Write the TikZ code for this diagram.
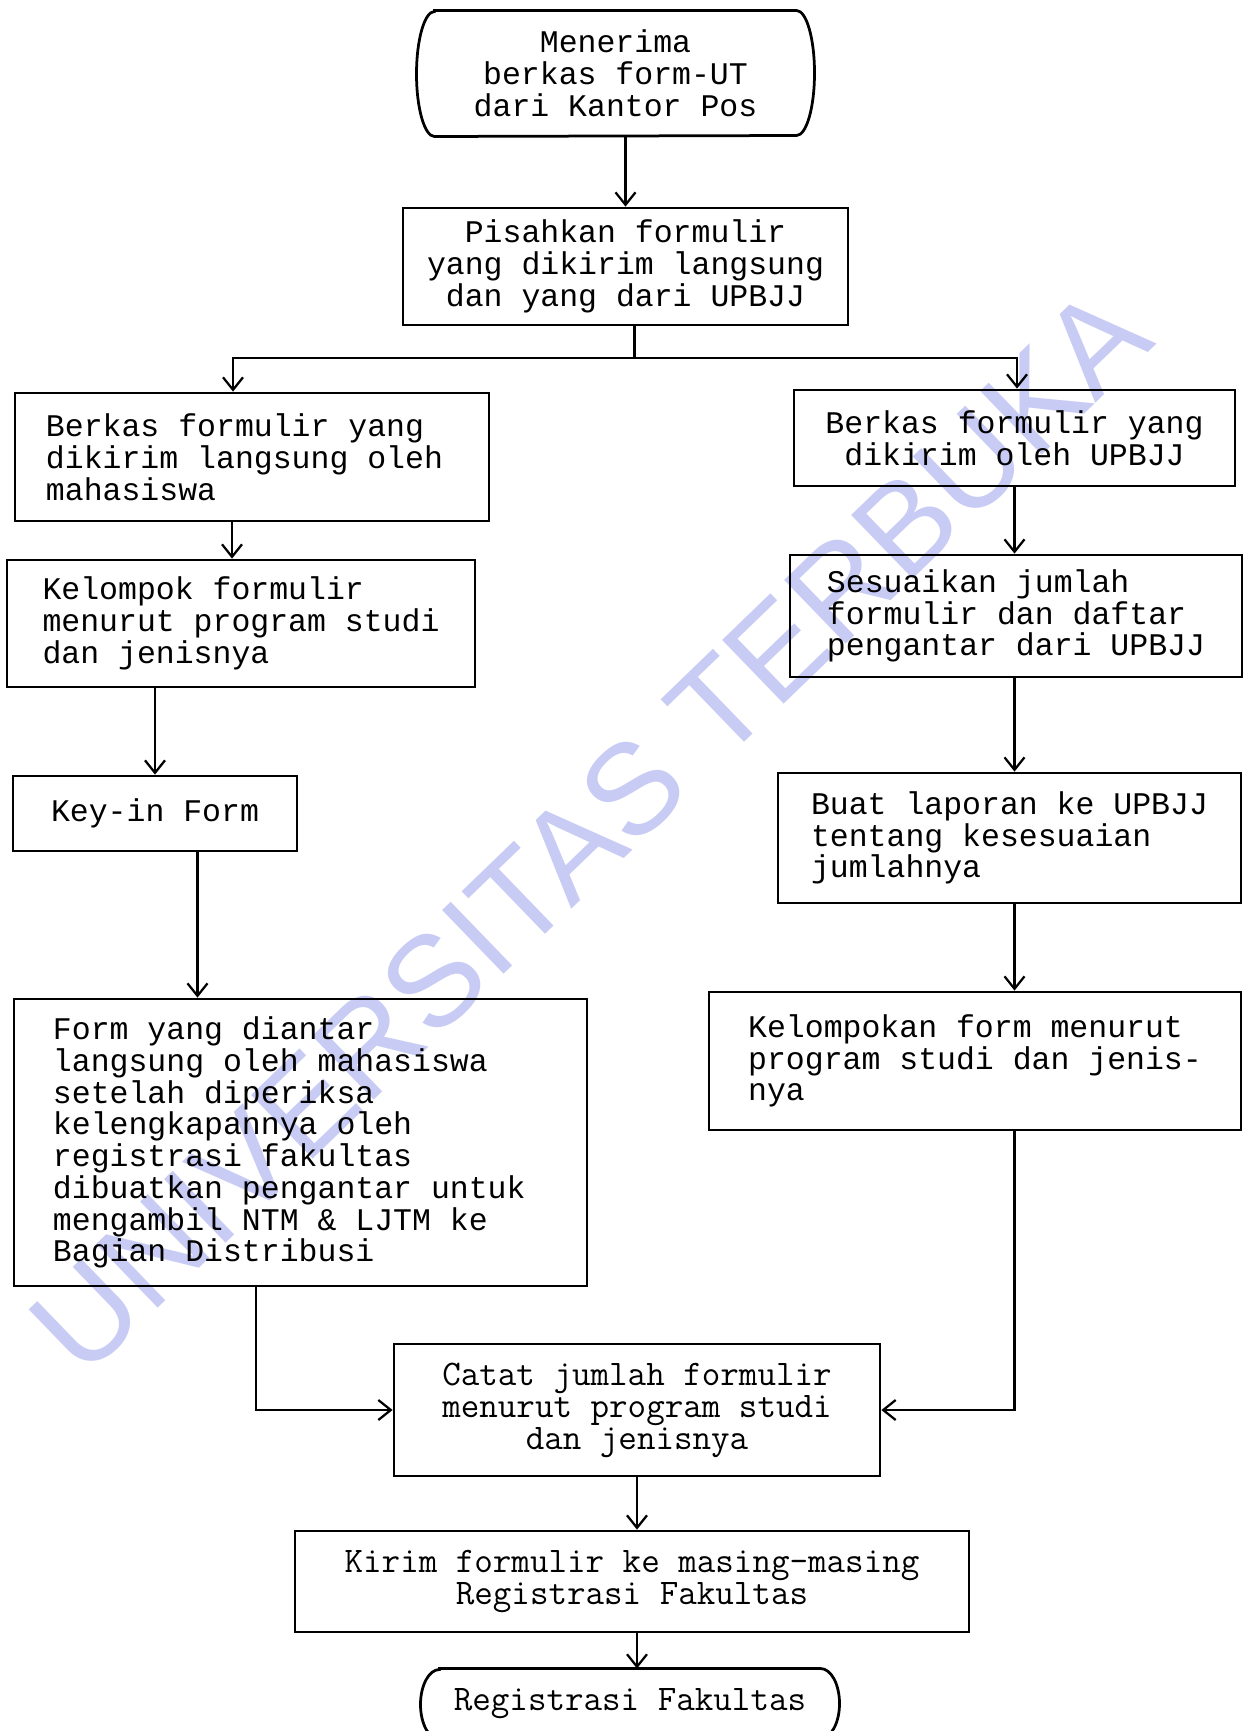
\documentclass[tikz,border=0pt]{standalone}
\usepackage{fontspec}
\newfontfamily\typefont{Liberation Mono}
\newfontfamily\markfont{Liberation Sans}
\usetikzlibrary{positioning,arrows.meta}

\definecolor{markblue}{RGB}{200,204,245}

\tikzset{
    box/.style={draw, line width=1.1pt, rectangle, inner sep=0pt, align=left,
        font=\typefont\fontsize{12.6}{12.7}\selectfont},
    boxl/.style={box, align=flush left},
    boxc/.style={box, align=center},
    boxcond/.style={box, align=center,
        font=\ttfamily\fontsize{14.4}{12.8}\selectfont},
    term/.style={rectangle, inner sep=0pt, align=center},
    flow/.style={->, line width=0.9pt},
}

\begin{document}
\begin{tikzpicture}[x=0.4pt, y=0.4pt, >={Straight Barb[length=5pt,width=8pt]}]
    \useasboundingbox (0,0) rectangle (1252,-1731);

    % watermark
    \node[rotate=44, text=markblue, font=\markfont\fontsize{51.5}{51.5}\selectfont]
        (mark) at (590,-830) {UNIVERSITAS TERBUKA};

    \node[term, minimum width=144.4pt, minimum height=50pt,
          font=\typefont\fontsize{12.6}{12.7}\selectfont]
        (start) at (615.5,-73.5) {Menerima\\berkas form-UT\\dari Kantor Pos};
    \node[boxc, minimum width=178pt, minimum height=46.8pt] (pisah) at (625.5,-266.5)
        {Pisahkan formulir\\yang dikirim langsung\\dan yang dari UPBJJ};

    % cabang kiri
    \node[boxl, minimum width=189.6pt, minimum height=51.2pt, text width=164.8pt]
        (kiri1) at (252,-457)
        {Berkas formulir yang\\dikirim langsung oleh\\mahasiswa};
    \node[box, minimum width=187.2pt, minimum height=50.8pt]
        (kiri2) at (241,-623.5)
        {Kelompok formulir\\menurut program studi\\dan jenisnya};
    \node[box, minimum width=113.6pt, minimum height=30pt] (keyin) at (155,-813.5)
        {Key-in Form};
    \node[boxl, minimum width=229.2pt, minimum height=114.8pt, text width=198pt]
        (kiri4) at (300.5,-1142.5)
        {Form yang diantar\\langsung oleh mahasiswa\\setelah diperiksa\\kelengkapannya oleh\\registrasi fakultas\\dibuatkan pengantar untuk\\mengambil NTM \& LJTM ke\\Bagian Distribusi};

    % cabang kanan
    \node[boxc, minimum width=176.4pt, minimum height=38.4pt] (kanan1) at (1014.5,-438)
        {Berkas formulir yang\\dikirim oleh UPBJJ};
    \node[box, minimum width=180.8pt, minimum height=48.8pt] (kanan2) at (1016,-616)
        {Sesuaikan jumlah\\formulir dan daftar\\pengantar dari UPBJJ};
    \node[box, minimum width=185.2pt, minimum height=52pt] (kanan3) at (1009.5,-838)
        {Buat laporan ke UPBJJ\\tentang kesesuaian\\jumlahnya};
    \node[box, minimum width=212.8pt, minimum height=55.2pt] (kanan4) at (975,-1061)
        {Kelompokan form menurut\\program studi dan jenis-\\nya};

    \node[boxcond, minimum width=194.4pt, minimum height=52.8pt] (catat) at (637,-1410)
        {Catat jumlah formulir\\menurut program studi\\dan jenisnya};
    \node[boxcond, minimum width=269.6pt, minimum height=40.4pt] (kirim) at (632,-1581.5)
        {Kirim formulir ke masing-masing\\Registrasi Fakultas};
    \node[term, minimum width=152pt, minimum height=28pt,
          font=\ttfamily\fontsize{14.4}{12.8}\selectfont]
        (akhir) at (630,-1704) {Registrasi Fakultas};

    % terminator outlines
    \draw[line width=1.1pt] (start.north west) -- (start.north east)
        arc[start angle=90, end angle=-90, x radius=7.2pt, y radius=25pt]
        -- (start.south west)
        arc[start angle=270, end angle=90, x radius=7.2pt, y radius=25pt] -- cycle;
    \draw[line width=1.1pt] (akhir.north west) -- (akhir.north east)
        arc[start angle=90, end angle=-90, x radius=7.6pt, y radius=14pt]
        -- (akhir.south west)
        arc[start angle=270, end angle=90, x radius=7.6pt, y radius=14pt] -- cycle;

    % connectors
    \draw[flow] (start.south -| pisah.north) -- (pisah.north);
    \draw[line width=0.9pt] ([xshift=3.6pt]pisah.south) -- ++(0,-32) coordinate (split);
    \draw[flow] (split) -| ([xshift=-7.6pt]kiri1.north);
    \draw[flow] (split) -| ([xshift=1pt]kanan1.north);
    \draw[flow] ([xshift=-8pt]kiri1.south) -- ([xshift=-8pt]kiri1.south |- kiri2.north);
    \draw[flow] (kiri2.south -| keyin.north) -- (keyin.north);
    \draw[flow] ([xshift=17pt]keyin.south) -- ([xshift=17pt]keyin.south |- kiri4.north);
    \draw[flow] ([xshift=-17.8pt]kiri4.south) |- (catat.west);
    \draw[flow] (kanan1.south) -- (kanan1.south |- kanan2.north);
    \draw[flow] (kanan1.south |- kanan2.south) -- (kanan1.south |- kanan3.north);
    \draw[flow] (kanan1.south |- kanan3.south) -- (kanan1.south |- kanan4.north);
    \draw[flow] (kanan1.south |- kanan4.south) |- (catat.east);
    \draw[flow] (catat.south) -- (catat.south |- kirim.north);
    \draw[flow] (catat.south |- kirim.south) -- (catat.south |- akhir.north);
\end{tikzpicture}
\end{document}
